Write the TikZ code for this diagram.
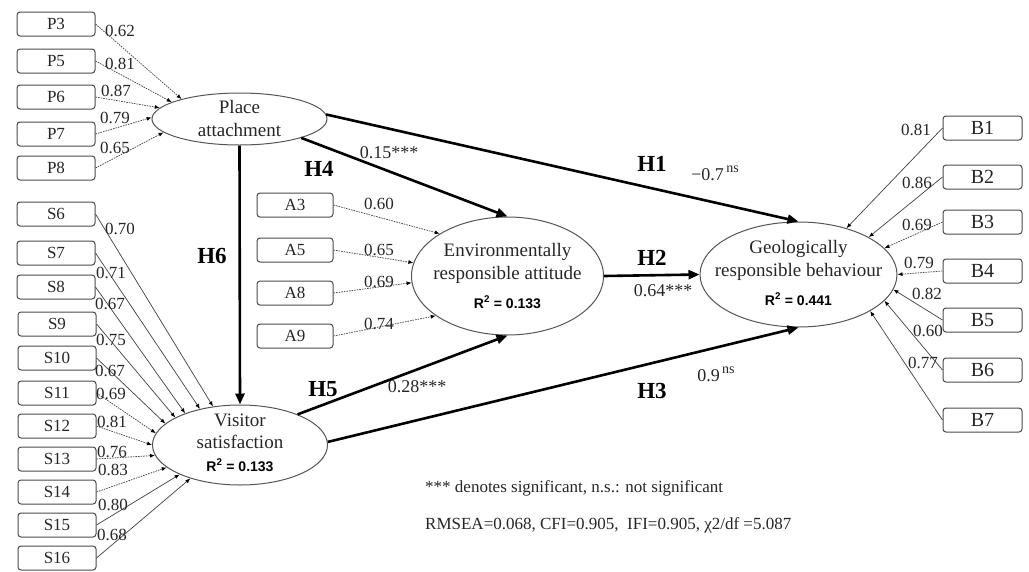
\documentclass[tikz,border=0pt]{standalone}
\usepackage{fontspec}
\setmainfont{Liberation Serif}
\newfontfamily\arialf{Liberation Sans}
\usetikzlibrary{shapes.geometric,arrows.meta}
\definecolor{txt}{HTML}{262626}
\definecolor{lgray}{HTML}{4A4A4A}
\definecolor{egray}{HTML}{555555}
\newcommand{\nsup}{\raisebox{0.45em}{\fontsize{14}{14}\selectfont\,ns}}
\begin{document}
\begin{tikzpicture}[x=1pt,y=-1pt,
 box/.style={draw=lgray, line width=1pt, rounded corners=3pt, minimum width=78pt, minimum height=24pt, inner sep=0pt, text=txt, font=\fontsize{17}{17}\selectfont},
 bbox/.style={box, minimum width=79pt, font=\fontsize{20}{20}\selectfont},
 lat/.style={ellipse, draw=egray, line width=1pt, inner sep=0pt},
 ltxt/.style={text=txt, font=\fontsize{19}{19}\selectfont, inner sep=0pt, text height=13pt, text depth=0pt},
 rsq/.style={font=\arialf\bfseries\fontsize{14}{14}\selectfont, inner sep=0pt, text height=10pt, text depth=0pt},
 coef/.style={text=txt, font=\fontsize{17}{17}\selectfont, inner sep=0pt, text height=12pt, text depth=0pt},
 pcoef/.style={text=txt, font=\fontsize{18}{18}\selectfont, inner sep=0pt, text height=12.5pt, text depth=0pt},
 hyp/.style={font=\bfseries\fontsize{23}{23}\selectfont, inner sep=0pt, text height=16pt, text depth=0pt},
 note/.style={text=txt, font=\fontsize{17}{17}\selectfont, inner sep=0pt, anchor=west},
 ind/.style={draw=lgray, line width=0.75pt, -{Latex[length=5pt,width=4pt,black]}},
 indd/.style={ind, dash pattern=on 1.6pt off 1pt},
 reg/.style={draw=black, line width=2.6pt, -{Triangle[length=11pt,width=9pt]}},
]
\useasboundingbox (0,0) rectangle (1029,571);

% latent variables
\node[lat, minimum width=175pt, minimum height=52pt] (pa) at (239.5,119) {};
\node[ltxt] (paT1) at (239.5,107) {Place};
\node[ltxt] (paT2) at (239.5,130) {attachment};

\node[lat, minimum width=175pt, minimum height=80pt] (vs) at (240,445) {};
\node[ltxt] (vsT1) at (240,420) {Visitor};
\node[ltxt] (vsT2) at (240,442) {satisfaction};
\node[rsq] (vsR) at (240,466) {R\textsuperscript{2} = 0.133};

\node[lat, minimum width=192pt, minimum height=118pt] (env) at (507.5,276) {};
\node[ltxt] (envT1) at (507.5,250) {Environmentally};
\node[ltxt] (envT2) at (507.5,273) {responsible attitude};
\node[rsq] (envR) at (507.5,303) {R\textsuperscript{2} = 0.133};

\node[lat, minimum width=197pt, minimum height=105pt] (geo) at (798.5,274.5) {};
\node[ltxt] (geoT1) at (798.5,247) {Geologically};
\node[ltxt] (geoT2) at (798.5,270) {responsible behaviour};
\node[rsq] (geoR) at (798.5,300) {R\textsuperscript{2} = 0.441};

% P indicators
\node[box] (P3) at (56,24) {P3};
\node[box] (P5) at (56,61) {P5};
\node[box] (P6) at (56,97) {P6};
\node[box] (P7) at (56,134) {P7};
\node[box] (P8) at (56,168) {P8};
\draw[indd] (P3.east) -- (pa.161);
\draw[indd] (P5.east) -- (pa.166);
\draw[indd] (P6.east) -- (pa.172);
\draw[indd] (P7.east) -- (pa.179);
\draw[indd] (P8.east) -- (pa.190);
\node[coef] (cP3) at (120,30) {0.62};
\node[coef] (cP5) at (120,63) {0.81};
\node[coef] (cP6) at (116,90) {0.87};
\node[coef] (cP7) at (115,117) {0.79};
\node[coef] (cP8) at (115,147) {0.65};

% S indicators
\node[box] (S6) at (56,214) {S6};
\node[box] (S7) at (56,253) {S7};
\node[box] (S8) at (56,287) {S8};
\node[box] (S9) at (57,324) {S9};
\node[box] (S10) at (57,358) {S10};
\node[box] (S11) at (57,393) {S11};
\node[box] (S12) at (57,426) {S12};
\node[box] (S13) at (57,459) {S13};
\node[box] (S14) at (57,492) {S14};
\node[box] (S15) at (57,525) {S15};
\node[box] (S16) at (57,558) {S16};
\draw[ind] (S6.east) -- (vs.125);
\draw[ind] (S7.east) -- (vs.138);
\draw[ind] (S8.east) -- (vs.150);
\draw[ind] (S9.east) -- (vs.157);
\draw[ind] (S10.east) -- (vs.164);
\draw[indd] (S11.east) -- (vs.172);
\draw[indd] (S12.east) -- (vs.180);
\draw[indd] (S13.east) -- (vs.187);
\draw[indd] (S14.east) -- (vs.197);
\draw[ind] (S15.east) -- (vs.206);
\draw[ind] (S16.east) -- (vs.214);
\node[coef] (cS6) at (120,228) {0.70};
\node[coef] (cS7) at (111,272) {0.71};
\node[coef] (cS8) at (110,303) {0.67};
\node[coef] (cS9) at (111,339) {0.75};
\node[coef] (cS10) at (110,370) {0.67};
\node[coef] (cS11) at (111,393) {0.69};
\node[coef] (cS12) at (112,421) {0.81};
\node[coef] (cS13) at (112,451) {0.76};
\node[coef] (cS14) at (113,469) {0.83};
\node[coef] (cS15) at (113,504) {0.80};
\node[coef] (cS16) at (112,534) {0.68};

% A indicators
\node[box, minimum width=76pt] (A3) at (295,205) {A3};
\node[box, minimum width=76pt] (A5) at (295,250) {A5};
\node[box, minimum width=76pt] (A8) at (295,293) {A8};
\node[box, minimum width=76pt] (A9) at (295,336) {A9};
\draw[indd] (A3.east) -- (env.148);
\draw[indd] (A5.east) -- (env.172);
\draw[indd] (A8.east) -- (env.184);
\draw[indd] (A9.east) -- (env.209);
\node[coef] (cA3) at (379,203) {0.60};
\node[coef] (cA5) at (379,249) {0.65};
\node[coef] (cA8) at (379,281) {0.69};
\node[coef] (cA9) at (379,323) {0.74};

% B indicators
\node[bbox] (B1) at (982.5,128) {B1};
\node[bbox] (B2) at (982.5,177) {B2};
\node[bbox] (B3) at (982.5,222) {B3};
\node[bbox] (B4) at (982.5,271) {B4};
\node[bbox] (B5) at (982.5,320) {B5};
\node[bbox] (B6) at (982.5,370) {B6};
\node[bbox] (B7) at (982.5,420) {B7};
\draw[ind] (B1.west) -- (geo.44);
\draw[ind] (B2.west) -- (geo.28);
\draw[indd] (B3.west) -- (geo.17);
\draw[indd] (B4.west) -- (geo.0);
\draw[ind] (B5.west) -- (geo.-9);
\draw[ind] (B6.west) -- (geo.-17);
\draw[ind] (B7.west) -- (geo.-27);
\node[coef] (cB1) at (916,129) {0.81};
\node[coef] (cB2) at (917,182) {0.86};
\node[coef] (cB3) at (917,224) {0.69};
\node[coef] (cB4) at (919,262) {0.79};
\node[coef] (cB5) at (927,293) {0.82};
\node[coef] (cB6) at (928,330) {0.60};
\node[coef] (cB7) at (923,362) {0.77};

% structural paths
\draw[reg] (pa.3) -- (geo.north);
\draw[reg] (pa.343) -- (env.north);
\draw[reg] (pa.south) -- (vs.north);
\draw[reg] (env.east) -- (geo.west);
\draw[reg] (vs.28) -- (env.south);
\draw[reg] (vs.2) -- (geo.south);

\node[hyp] (H1) at (652,163) {H1};
\node[hyp] (H2) at (652,257) {H2};
\node[hyp] (H3) at (652,390) {H3};
\node[hyp] (H4) at (319,168) {H4};
\node[hyp] (H5) at (323,388) {H5};
\node[hyp] (H6) at (212,255) {H6};

\node[pcoef] (c1) at (715,174) {−0.7\nsup};
\node[pcoef] (c2) at (663,290) {0.64***};
\node[pcoef] (c3) at (716,375) {0.9\nsup};
\node[pcoef] (c4) at (389,152) {0.15***};
\node[pcoef] (c5) at (417,386) {0.28***};

% notes
\node[note] (n1) at (425,488) {*** denotes significant, n.s.: not significant};
\node[note] (n2) at (425,525) {RMSEA=0.068, CFI=0.905,\ \ IFI=0.905, χ2/df =5.087};
\end{tikzpicture}
\end{document}
